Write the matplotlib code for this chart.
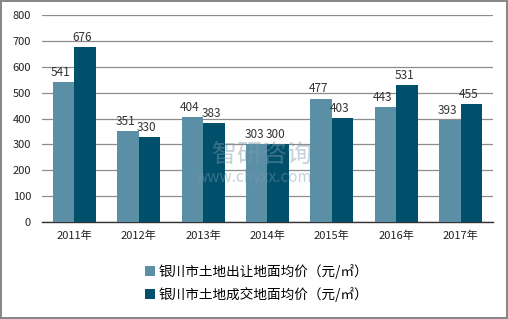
import matplotlib
matplotlib.use("Agg")
import matplotlib.pyplot as plt
import numpy as np
from matplotlib.patches import Patch

plt.rcParams['font.family'] = ['Noto Sans CJK SC', 'DejaVu Sans']

years = ['2011年', '2012年', '2013年', '2014年', '2015年', '2016年', '2017年']
transfer_price = [541, 351, 404, 303, 477, 443, 393]
deal_price = [676, 330, 383, 300, 403, 531, 455]
series_names = ['银川市土地出让地面均价（元/㎡）', '银川市土地成交地面均价（元/㎡）']
yticks = [0, 100, 200, 300, 400, 500, 600, 700, 800]

c1 = '#5B8FA6'
c2 = '#00506B'

fig = plt.figure(figsize=(5.08, 3.19), dpi=100)
fig.patch.set_edgecolor('#888888')
fig.patch.set_linewidth(1.5)
ax = fig.add_axes([0.083, 0.304, 0.887, 0.649])

x = np.arange(len(years))
w = 0.335
b1 = ax.bar(x - w / 2, transfer_price, w, color=c1, zorder=3)
b2 = ax.bar(x + w / 2, deal_price, w, color=c2, zorder=3)

for rect, v in zip(b1, transfer_price):
    ax.text(rect.get_x() + rect.get_width() / 2 - 0.04, v + 12, str(v), ha='center', va='bottom', fontsize=8.5, color='#333333', zorder=5)
for rect, v in zip(b2, deal_price):
    ax.text(rect.get_x() + rect.get_width() / 2 - 0.04, v + 12, str(v), ha='center', va='bottom', fontsize=8.5, color='#333333', zorder=5)

ax.set_xlim(-0.5, len(years) - 0.5)
ax.set_ylim(0, 800)
ax.set_yticks(yticks)
ax.set_xticks(x)
ax.set_xticklabels(years)
ax.tick_params(axis='both', length=0, labelsize=8, colors='#222222')
ax.tick_params(axis='x', pad=6)
ax.tick_params(axis='y', pad=8)
ax.grid(axis='y', color='#8c8c8c', linewidth=0.9, zorder=0)
for s in ['top', 'right', 'left']:
    ax.spines[s].set_visible(False)
ax.spines['bottom'].set_color('#333333')
ax.spines['bottom'].set_linewidth(1.0)

# watermark
fig.text(0.515, 0.515, '智研咨询', ha='center', va='center', fontsize=18, color='#7f99ad', alpha=0.45, zorder=10)
fig.text(0.5, 0.445, 'www.chyxx.com', ha='center', va='center', fontsize=11, color='#7f99ad', alpha=0.45, zorder=10)

handles = [Patch(facecolor=c1), Patch(facecolor=c2)]
fig.legend(handles, series_names, loc='upper left', bbox_to_anchor=(0.275, 0.19), ncol=1,
           frameon=False, fontsize=9.8, handlelength=0.7, handleheight=0.7, handletextpad=0.3,
           labelspacing=0.6, borderaxespad=0)

fig.savefig('out.png', dpi=100)
